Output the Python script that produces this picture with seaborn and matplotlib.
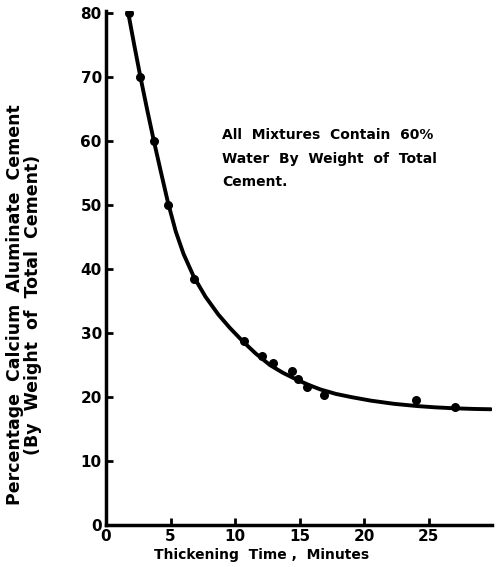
import matplotlib
matplotlib.use("Agg")
import matplotlib.pyplot as plt
import seaborn as sns
import pandas as pd

# measured points
pt_time = [1.8, 2.6, 3.7, 4.8, 6.8, 10.7, 12.1, 12.9, 14.4, 14.9, 15.6, 16.9, 24.0, 27.0]
pt_pct = [80, 70, 60, 50, 38.4, 28.8, 26.4, 25.3, 24.1, 22.8, 21.6, 20.4, 19.5, 18.4]

# fitted curve
curve_time = [1.7, 2.2, 2.65, 3.2, 3.7, 4.25, 4.8, 5.4, 6.0, 6.8, 7.7, 8.7, 9.6, 10.6, 11.6,
              12.7, 13.7, 14.8, 15.7, 16.6, 17.8, 19.0, 20.5, 22.3, 24.1, 25.5, 27.0, 28.5, 29.8]
curve_pct = [80.3, 74.9, 70.2, 64.8, 60.1, 55.2, 50.4, 45.9, 42.4, 38.8, 35.7, 32.9, 30.8, 28.7, 26.8,
             25.0, 23.8, 22.7, 21.9, 21.2, 20.5, 20.0, 19.45, 18.95, 18.6, 18.4, 18.25, 18.15, 18.1]

x_ticks = [0, 5, 10, 15, 20, 25]
y_ticks = [0, 10, 20, 30, 40, 50, 60, 70, 80]

sns.set_style("ticks")
plt.rcParams['font.family'] = ['DejaVu Sans']
plt.rcParams['font.weight'] = 'bold'
for k in ['text.color', 'axes.labelcolor', 'xtick.color', 'ytick.color', 'axes.edgecolor']:
    plt.rcParams[k] = 'black'

fig = plt.figure(figsize=(4.97, 5.67), dpi=100)
ax = fig.add_axes([0.2133, 0.074, 0.777, 0.907])

pts = pd.DataFrame({"t": pt_time, "p": pt_pct})
crv = pd.DataFrame({"t": curve_time, "p": curve_pct})

sns.lineplot(data=crv, x="t", y="p", ax=ax, color="black", linewidth=2.8, sort=False)
sns.scatterplot(data=pts, x="t", y="p", ax=ax, color="black", s=30, edgecolor="black",
                linewidth=1.0, zorder=3)

ax.set_xlim(0, 29.9)
ax.set_ylim(0, 80.4)
ax.set_xticks(x_ticks)
ax.set_yticks(y_ticks)
ax.tick_params(direction="in", length=5, width=2, labelsize=11, pad=3, colors="black")
for lab in ax.get_xticklabels() + ax.get_yticklabels():
    lab.set_fontweight("bold")

for side in ["top", "right"]:
    ax.spines[side].set_visible(False)
for side in ["left", "bottom"]:
    ax.spines[side].set_linewidth(2.5)
    ax.spines[side].set_color("black")

ax.set_xlabel("Thickening  Time ,  Minutes", fontsize=10, fontweight="bold")
ax.xaxis.set_label_coords(0.404, -0.045)
ax.set_ylabel("Percentage  Calcium  Aluminate  Cement\n(By  Weight  of  Total  Cement)",
              fontsize=12.5, fontweight="bold", linespacing=1.0)
ax.yaxis.set_label_coords(-0.166, 0.428)

ax.text(9.0, 57.3, "All  Mixtures  Contain  60%\nWater  By  Weight  of  Total\nCement.",
        fontsize=10, fontweight="bold", va="center", ha="left", linespacing=1.85)

fig.savefig("out.png", dpi=100)
